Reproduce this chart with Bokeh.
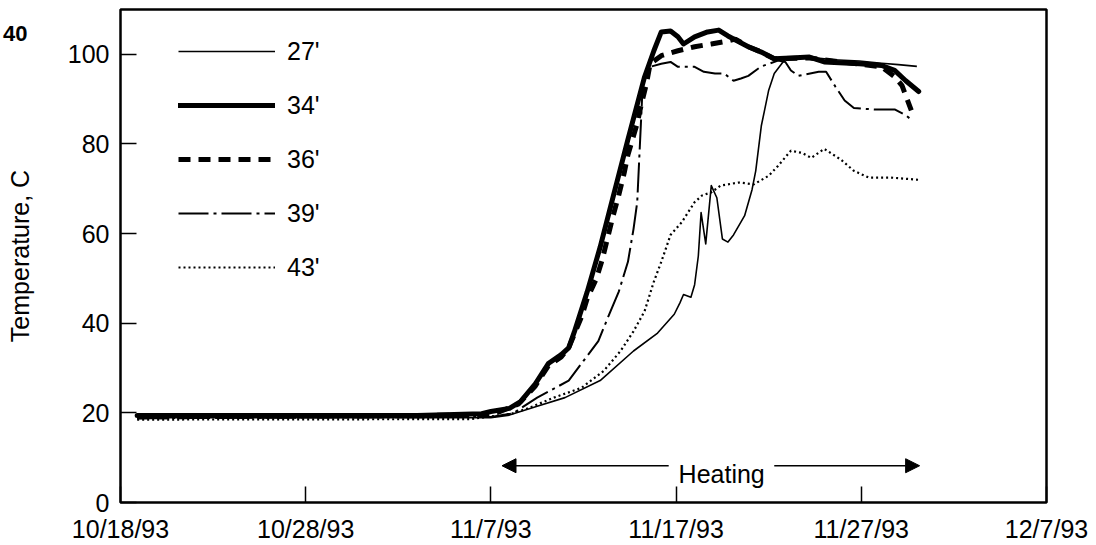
from bokeh.plotting import figure
from bokeh.models import Legend, LegendItem, FixedTicker, Label, Arrow, NormalHead, LinearAxis
from bokeh.embed import file_html
from bokeh.resources import INLINE

# x values: days since 10/18/93
tick_days = [0, 10, 20, 30, 40, 50]
tick_labels = ["10/18/93", "10/28/93", "11/7/93", "11/17/93", "11/27/93", "12/7/93"]
y_ticks = [0, 20, 40, 60, 80, 100]
figure_number = "40"

series_labels = ["27'", "34'", "36'", "39'", "43'"]

day_27 = [0.9, 20.0, 21.0, 22.5, 24.0, 25.9, 27.7, 29.0, 29.9, 30.2, 30.4, 30.8, 31.0, 31.2,
          31.35, 31.6, 31.9, 32.2, 32.5, 32.8, 33.1, 33.7, 34.1, 34.3, 34.6, 35.0, 35.3, 35.7,
          35.9, 36.5, 37.5, 38.5, 39.9, 41.1, 42.0, 43.0]
temp_27 = [18.9, 18.9, 19.5, 21.5, 23.4, 27.2, 33.8, 37.8, 42.0, 44.5, 46.4, 45.8, 48.6, 55.0,
           64.7, 57.7, 70.7, 68.0, 58.8, 58.1, 59.7, 64.0, 69.8, 74.0, 84.0, 92.0, 95.7, 97.9,
           99.0, 99.3, 99.2, 98.8, 98.5, 98.0, 97.7, 97.3]

day_34 = [0.9, 16.0, 19.5, 20.0, 21.0, 21.6, 22.4, 23.1, 23.8, 24.2, 24.5, 25.2, 25.9, 26.4,
          27.4, 28.3, 28.8, 29.2, 29.7, 30.1, 30.4, 31.0, 31.7, 32.3, 32.8, 33.9, 34.6, 35.3,
          36.2, 37.2, 38.0, 39.9, 41.1, 41.8, 42.4, 43.1]
temp_34 = [19.4, 19.4, 19.8, 20.3, 21.0, 22.5, 26.5, 31.0, 33.0, 34.5, 38.0, 47.0, 57.0, 65.0,
           81.0, 95.0, 100.8, 105.0, 105.2, 103.9, 102.3, 103.9, 105.0, 105.4, 104.1, 101.7, 100.5, 99.0,
           99.2, 99.4, 98.3, 97.9, 97.5, 96.4, 94.1, 91.7]

day_36 = [0.9, 19.5, 20.5, 21.5, 22.4, 23.1, 23.8, 24.2, 24.9, 25.2, 25.7, 26.0, 26.3, 26.6,
          26.9, 27.2, 27.4, 27.9, 28.1, 28.4, 28.6, 29.2, 30.1, 31.0, 31.9, 32.6, 33.2, 33.9,
          34.6, 35.3, 37.2, 39.9, 41.1, 41.8, 42.2, 42.7]
temp_36 = [19.1, 19.5, 20.3, 22.0, 26.0, 30.5, 32.5, 34.5, 41.5, 45.5, 50.0, 54.0, 59.0, 64.0,
           68.5, 73.6, 77.6, 84.6, 88.4, 93.5, 97.9, 99.7, 100.8, 101.7, 102.3, 102.8, 103.4, 101.7,
           100.5, 99.0, 99.2, 97.8, 97.2, 95.0, 93.0, 87.5]

day_39 = [0.9, 20.0, 21.2, 22.5, 23.4, 24.2, 25.0, 25.8, 26.3, 26.9, 27.4, 27.7, 27.9, 28.0,
          28.1, 28.2, 28.4, 28.6, 29.2, 29.7, 30.1, 31.0, 31.5, 32.1, 32.6, 33.1, 33.5, 33.9,
          34.6, 35.5, 35.9, 36.2, 36.6, 37.7, 38.1, 38.6, 39.1, 39.6, 40.7, 41.8, 42.4, 42.8]
temp_39 = [18.8, 19.1, 19.9, 23.4, 25.4, 27.2, 31.6, 36.0, 41.1, 47.0, 53.7, 61.0, 67.0, 75.8,
           84.6, 93.5, 95.7, 97.2, 97.9, 98.3, 97.2, 97.2, 96.1, 95.7, 95.7, 94.1, 94.6, 95.2,
           97.3, 98.6, 98.3, 96.4, 95.2, 96.1, 96.1, 92.8, 89.7, 88.0, 87.7, 87.7, 86.4, 85.1]

day_43 = [0.9, 18.9, 21.1, 22.0, 23.4, 24.9, 26.1, 27.0, 27.7, 28.3, 28.8, 29.2, 29.7, 30.3,
          31.0, 31.4, 31.9, 32.4, 33.4, 34.2, 35.0, 35.5, 36.2, 36.8, 37.3, 38.0, 38.9, 39.6,
          40.4, 41.6, 43.1]
temp_43 = [18.5, 18.6, 19.8, 21.0, 23.4, 25.6, 29.4, 33.8, 38.2, 42.7, 49.3, 53.7, 59.7, 62.5,
           67.0, 68.5, 69.2, 70.7, 71.4, 71.0, 72.9, 75.1, 78.5, 78.0, 76.9, 78.9, 76.5, 74.0,
           72.5, 72.5, 72.0]

FONT = "Liberation Sans"

p = figure(width=1096, height=545, x_range=(0, 50), y_range=(0, 110),
           output_backend="svg", toolbar_location=None)
p.min_border_left = 120
p.min_border_right = 50
p.min_border_top = 9
p.min_border_bottom = 42
p.grid.visible = False
p.outline_line_color = "black"
p.outline_line_width = 2.5
p.outline_line_alpha = 1.0
p.background_fill_color = "white"
p.border_fill_color = "white"

for ax in (p.xaxis[0], p.yaxis[0]):
    ax.axis_line_color = None
    ax.major_tick_in = 16
    ax.major_tick_out = 0
    ax.minor_tick_line_color = None
    ax.major_tick_line_color = "black"
    ax.major_tick_line_width = 1.5
    ax.major_label_text_font = FONT
    ax.major_label_text_font_size = "25px"
    ax.major_label_text_color = "black"

p.xaxis.ticker = FixedTicker(ticks=tick_days)
p.xaxis.major_label_overrides = dict(zip(tick_days, tick_labels))
p.xaxis.major_label_standoff = 12
p.yaxis.ticker = FixedTicker(ticks=y_ticks)
p.yaxis.major_label_standoff = 11
p.yaxis.axis_label = "Temperature, C"
p.yaxis.axis_label_text_font = FONT
p.yaxis.axis_label_text_font_size = "25px"
p.yaxis.axis_label_text_font_style = "normal"
p.yaxis.axis_label_text_color = "black"
p.yaxis.axis_label_standoff = 31

# figure number at the top left, drawn as an outer, tickless axis label
fig_pos = 104.7
ax_no = LinearAxis(ticker=FixedTicker(ticks=[fig_pos]),
                   major_label_overrides={fig_pos: figure_number},
                   major_label_standoff=-25,
                   major_tick_in=0, major_tick_out=0, minor_tick_in=0, minor_tick_out=0,
                   axis_line_color=None, major_tick_line_color=None, minor_tick_line_color=None,
                   major_label_text_font=FONT, major_label_text_font_size="22px",
                   major_label_text_font_style="bold", major_label_text_color="black")
p.add_layout(ax_no, "left")

r43 = p.line(day_43, temp_43, line_color="black", line_width=2.2, line_dash="2 3")
r39 = p.line(day_39, temp_39, line_color="black", line_width=2, line_dash="30 5 3 5")
r27 = p.line(day_27, temp_27, line_color="black", line_width=1.6, line_join="round")
r36 = p.line(day_36, temp_36, line_color="black", line_width=5, line_dash="12 8")
r34 = p.line(day_34, temp_34, line_color="black", line_width=5, line_join="round", line_cap="round")

renderers = [r27, r34, r36, r39, r43]
legend = Legend(items=[LegendItem(label=lab, renderers=[r]) for lab, r in zip(series_labels, renderers)],
                location=(58, 220))
legend.glyph_width = 97
legend.glyph_height = 30
legend.label_height = 30
legend.label_standoff = 12
legend.spacing = 24
legend.padding = 0
legend.margin = 0
legend.border_line_color = None
legend.background_fill_alpha = 0
legend.label_text_font = FONT
legend.label_text_font_size = "25px"
legend.label_text_color = "black"
p.add_layout(legend)

# Heating annotation
head_l = NormalHead(size=14, fill_color="black", line_color="black")
head_r = NormalHead(size=14, fill_color="black", line_color="black")
p.add_layout(Arrow(end=head_l, x_start=29.6, y_start=8.2, x_end=20.6, y_end=8.2,
                   line_color="black", line_width=1.5))
p.add_layout(Arrow(end=head_r, x_start=35.3, y_start=8.2, x_end=43.15, y_end=8.2,
                   line_color="black", line_width=1.5))
p.add_layout(Label(x=32.46, y=6.4, text="Heating", text_align="center", text_baseline="alphabetic",
                   text_font=FONT, text_font_size="25px", text_color="black"))

open("out.html", "w").write(file_html(p, INLINE))
